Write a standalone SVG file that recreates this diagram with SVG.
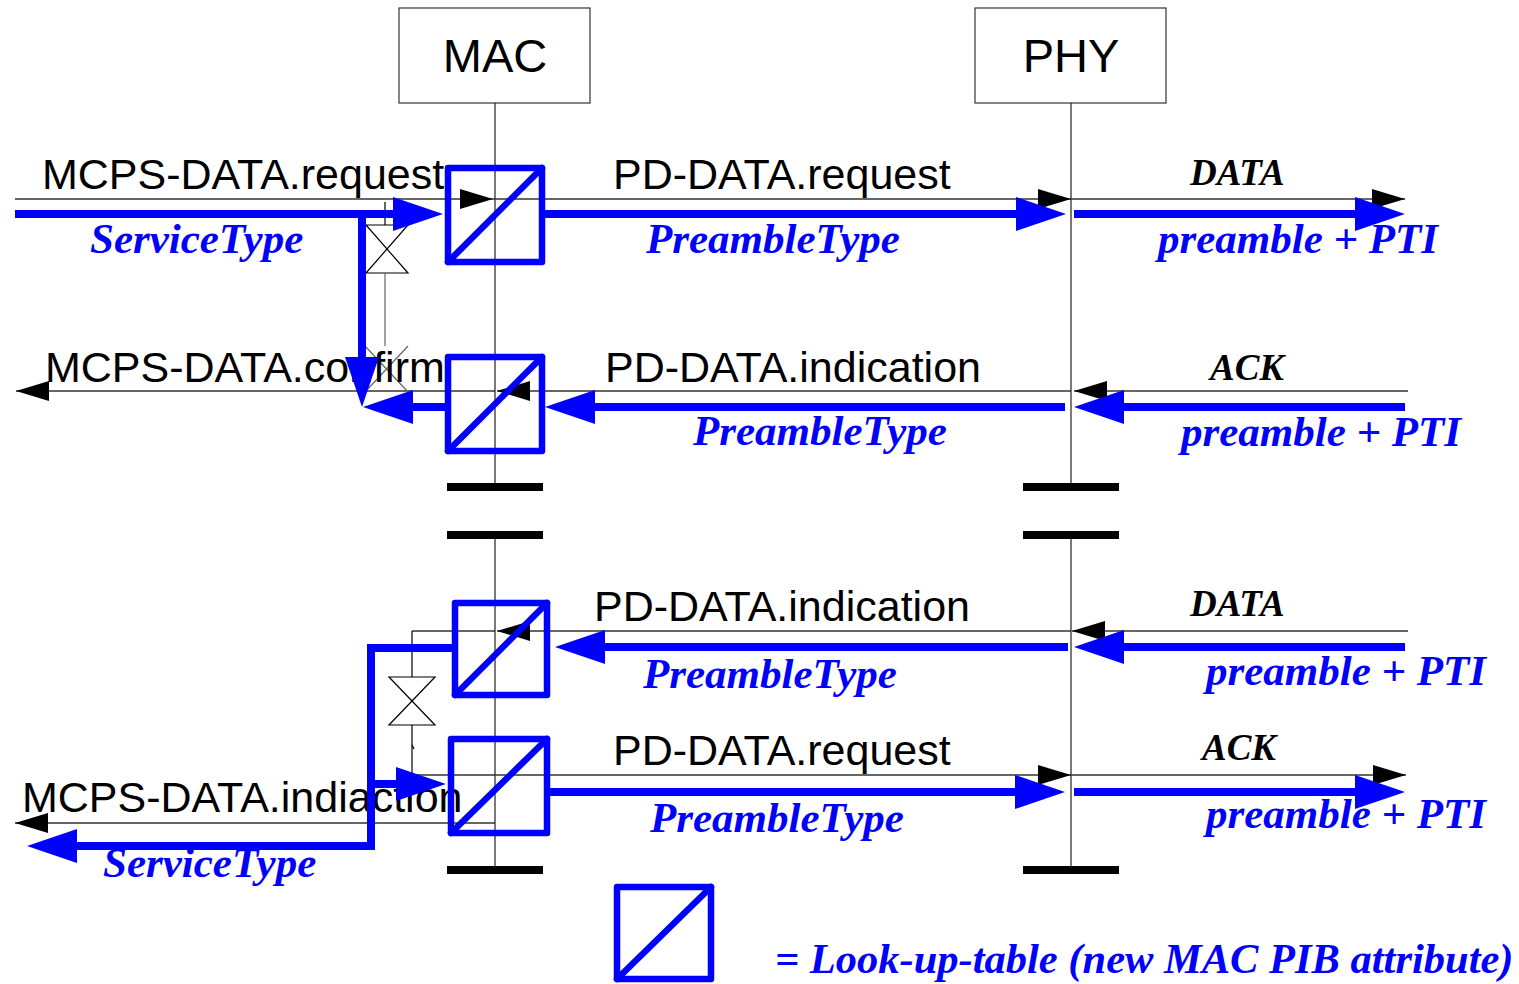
<svg xmlns="http://www.w3.org/2000/svg" width="1519" height="984" viewBox="0 0 1519 984">
  <style>
    .bg { fill: #ffffff; }
    .entity { fill: #ffffff; stroke: #333333; stroke-width: 1.2; }
    .hdr { font-family: "Liberation Sans", Arial, sans-serif; font-size: 47px; fill: #000000; text-anchor: middle; }
    .life { stroke: #222222; stroke-width: 1.2; fill: none; }
    .brk { fill: #000000; }
    .thin { stroke: #333333; stroke-width: 1.3; fill: none; }
    .valve { stroke: #000000; stroke-width: 1.2; fill: none; }
    .valve-g { stroke: #666666; stroke-width: 1.2; fill: none; }
    .blue { stroke: #0000ff; stroke-width: 8; fill: none; }
    .lut { stroke: #0000ff; stroke-width: 6.5; fill: none; stroke-linejoin: round; stroke-linecap: round; }
    .prim { font-family: "Liberation Sans", Arial, sans-serif; font-size: 43px; fill: #000000; }
    .frame { font-family: "Liberation Serif", "Times New Roman", serif; font-size: 37px; font-weight: bold; font-style: italic; fill: #000000; }
    .param { font-family: "Liberation Serif", "Times New Roman", serif; font-size: 43px; font-weight: bold; font-style: italic; fill: #0000ff; }
    .legend { font-family: "Liberation Serif", "Times New Roman", serif; font-size: 42.5px; font-weight: bold; font-style: italic; fill: #0000ff; }
  </style>
  <defs>
    <marker id="ahBlack" markerUnits="userSpaceOnUse" markerWidth="34" markerHeight="20" refX="33" refY="10" orient="auto" overflow="visible">
      <path d="M0,0 L33,10 L0,20 Z" fill="#000000"/>
    </marker>
    <marker id="ahBlue" markerUnits="userSpaceOnUse" markerWidth="50" markerHeight="34" refX="30" refY="17" orient="auto" overflow="visible">
      <path d="M0,0 L50,17 L0,34 Z" fill="#0000ff"/>
    </marker>
  </defs>

  <rect class="bg" x="0" y="0" width="1519" height="984"/>

  <!-- Entities -->
  <g id="node-mac">
    <rect class="entity" x="399" y="8" width="191" height="95"/>
    <text class="hdr" x="495" y="72">MAC</text>
    <path class="life" d="M495,103 V483 M495,539 V867"/>
    <rect class="brk" x="447" y="483" width="96" height="8"/>
    <rect class="brk" x="447" y="531" width="96" height="8"/>
    <rect class="brk" x="447" y="866" width="96" height="8"/>
  </g>
  <g id="node-phy">
    <rect class="entity" x="975" y="8" width="191" height="95"/>
    <text class="hdr" x="1071" y="72">PHY</text>
    <path class="life" d="M1071,103 V483 M1071,539 V867"/>
    <rect class="brk" x="1023" y="483" width="96" height="8"/>
    <rect class="brk" x="1023" y="531" width="96" height="8"/>
    <rect class="brk" x="1023" y="866" width="96" height="8"/>
  </g>

  <!-- Primitive lines (thin) -->
  <g id="connectors-primitives">
    <!-- row 1: request down to PHY and over the air -->
    <line class="thin" x1="15" y1="199" x2="493" y2="199" marker-end="url(#ahBlack)"/>
    <line class="thin" x1="493" y1="199" x2="1071" y2="199" marker-end="url(#ahBlack)"/>
    <line class="thin" x1="1071" y1="199" x2="1405" y2="199" marker-end="url(#ahBlack)"/>
    <!-- row 2: indication / confirm back -->
    <line class="thin" x1="1408" y1="391" x2="1074" y2="391" marker-end="url(#ahBlack)"/>
    <line class="thin" x1="1071" y1="391" x2="497" y2="391" marker-end="url(#ahBlack)"/>
    <line class="thin" x1="495" y1="391" x2="16" y2="391" marker-end="url(#ahBlack)"/>
    <!-- row 3: incoming DATA -->
    <line class="thin" x1="1408" y1="631" x2="1072" y2="631" marker-end="url(#ahBlack)"/>
    <line class="thin" x1="1071" y1="631" x2="497" y2="631" marker-end="url(#ahBlack)"/>
    <line class="thin" x1="495" y1="631" x2="412" y2="631"/>
    <!-- row 4: ACK out, indication up -->
    <line class="thin" x1="412" y1="775" x2="1071" y2="775" marker-end="url(#ahBlack)"/>
    <line class="thin" x1="1071" y1="775" x2="1406" y2="775" marker-end="url(#ahBlack)"/>
    <line class="thin" x1="495" y1="823" x2="15" y2="823" marker-end="url(#ahBlack)"/>

    <!-- switch between request and confirm -->
    <line class="valve" x1="385" y1="202" x2="385" y2="225"/>
    <path class="valve" d="M366,225 H408 L366,273 H408 Z"/>
    <line class="valve-g" x1="385" y1="273" x2="385" y2="346"/>
    <path class="valve-g" d="M365,346 L408,392 M408,346 L365,392"/>

    <!-- switch between indication and ACK request -->
    <line class="valve" x1="412" y1="631" x2="412" y2="677"/>
    <path class="valve" d="M389,677 H435 L389,725 H435 Z"/>
    <line class="valve" x1="412" y1="725" x2="412" y2="775"/>
    <line class="valve" x1="412" y1="745" x2="414" y2="749"/>
  </g>

  <!-- Primitive names -->
  <g id="labels-primitives">
    <text class="prim" x="42" y="189">MCPS-DATA.request</text>
    <text class="prim" x="613" y="189">PD-DATA.request</text>
    <text class="frame" x="1190" y="185">DATA</text>

    <text class="prim" x="45" y="382">MCPS-DATA.confirm</text>
    <text class="prim" x="605" y="382">PD-DATA.indication</text>
    <text class="frame" x="1210" y="380">ACK</text>

    <text class="prim" x="594" y="621">PD-DATA.indication</text>
    <text class="frame" x="1190" y="616">DATA</text>

    <text class="prim" x="613" y="765">PD-DATA.request</text>
    <text class="frame" x="1202" y="760">ACK</text>
    <text class="prim" x="22" y="812">MCPS-DATA.indiaction</text>
  </g>

  <!-- Parameter flow (blue) -->
  <g id="connectors-parameters">
    <line class="blue" x1="15" y1="214" x2="423" y2="214" marker-end="url(#ahBlue)"/>
    <line class="blue" x1="545" y1="214" x2="1046" y2="214" marker-end="url(#ahBlue)"/>
    <line class="blue" x1="1074" y1="214" x2="1385" y2="214" marker-end="url(#ahBlue)"/>
    <line class="blue" x1="362" y1="214" x2="362" y2="387" marker-end="url(#ahBlue)"/>

    <line class="blue" x1="1405" y1="407" x2="1094" y2="407" marker-end="url(#ahBlue)"/>
    <line class="blue" x1="1065" y1="407" x2="565" y2="407" marker-end="url(#ahBlue)"/>
    <line class="blue" x1="445" y1="407" x2="383" y2="407" marker-end="url(#ahBlue)"/>

    <line class="blue" x1="1405" y1="647" x2="1094" y2="647" marker-end="url(#ahBlue)"/>
    <line class="blue" x1="1068" y1="647" x2="575" y2="647" marker-end="url(#ahBlue)"/>
    <path class="blue" d="M453,648 H371 V846 H47" marker-end="url(#ahBlue)"/>
    <line class="blue" x1="371" y1="784" x2="426" y2="784" marker-end="url(#ahBlue)"/>

    <line class="blue" x1="550" y1="792" x2="1045" y2="792" marker-end="url(#ahBlue)"/>
    <line class="blue" x1="1074" y1="792" x2="1385" y2="792" marker-end="url(#ahBlue)"/>
  </g>

  <g id="labels-parameters">
    <text class="param" x="90" y="253">ServiceType</text>
    <text class="param" x="646" y="253">PreambleType</text>
    <text class="param" x="1158" y="253">preamble + PTI</text>

    <text class="param" x="693" y="445">PreambleType</text>
    <text class="param" x="1181" y="446">preamble + PTI</text>

    <text class="param" x="643" y="688">PreambleType</text>
    <text class="param" x="1206" y="685">preamble + PTI</text>

    <text class="param" x="650" y="832">PreambleType</text>
    <text class="param" x="1206" y="828">preamble + PTI</text>
    <text class="param" x="103" y="877">ServiceType</text>
  </g>

  <!-- Look-up tables -->
  <g id="node-lut-request" class="lut">
    <rect x="448" y="168" width="94" height="94"/>
    <line x1="448" y1="262" x2="542" y2="168"/>
  </g>
  <g id="node-lut-confirm" class="lut">
    <rect x="448" y="357" width="94" height="94"/>
    <line x1="448" y1="451" x2="542" y2="357"/>
  </g>
  <g id="node-lut-indication" class="lut">
    <rect x="455" y="603" width="92" height="92"/>
    <line x1="455" y1="695" x2="547" y2="603"/>
  </g>
  <g id="node-lut-ack" class="lut">
    <rect x="451" y="739" width="96" height="94"/>
    <line x1="451" y1="833" x2="547" y2="739"/>
  </g>

  <!-- Legend -->
  <g id="node-legend">
    <g class="lut">
      <rect x="617" y="887" width="94" height="92"/>
      <line x1="617" y1="979" x2="711" y2="887"/>
    </g>
    <text class="legend" x="775" y="973">= Look-up-table (new MAC PIB attribute)</text>
  </g>
</svg>
